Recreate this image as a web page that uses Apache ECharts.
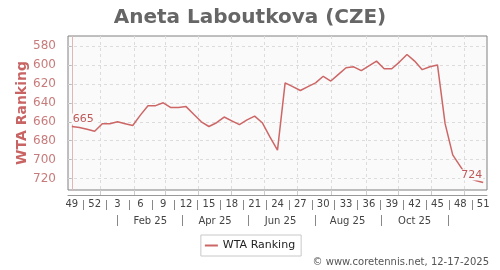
<!DOCTYPE html>
<html><head><meta charset="utf-8">
<script src="https://cdn.jsdelivr.net/npm/echarts@6/dist/echarts.min.js"></script>
<style>html,body{margin:0;padding:0;background:#fff}#c{width:500px;height:270px}</style>
</head><body><div id="c"></div>
<script>
const weeks = ['2024-W49','2024-W50','2024-W51','2024-W52',
  '2025-W01','2025-W02','2025-W03','2025-W04','2025-W05','2025-W06','2025-W07','2025-W08','2025-W09','2025-W10',
  '2025-W11','2025-W12','2025-W13','2025-W14','2025-W15','2025-W16','2025-W17','2025-W18','2025-W19','2025-W20',
  '2025-W21','2025-W22','2025-W23','2025-W24','2025-W25','2025-W26','2025-W27','2025-W28','2025-W29','2025-W30',
  '2025-W31','2025-W32','2025-W33','2025-W34','2025-W35','2025-W36','2025-W37','2025-W38','2025-W39','2025-W40',
  '2025-W41','2025-W42','2025-W43','2025-W44','2025-W45','2025-W46','2025-W47','2025-W48','2025-W49','2025-W50','2025-W51'];
const ranks = [665,666,668,670,662,662,660,662,664,653,643,643,640,645,645,644,652,660,665,661,655,659,663,658,654,661,676,690,619,623,627,623,619,612,617,610,603,602,606,601,596,604,604,597,589,596,605,602,600,662,695,707,719,722,724];
const weekTickIdx = [0,3,6,9,12,15,18,21,24,27,30,33,36,39,42,45,48,51,54];
const weekTickLabels = ['49','52','3','6','9','12','15','18','21','24','27','30','33','36','39','42','45','48','51'];
const weekSepIdx = [1.5,4.5,7.5,10.5,13.5,16.5,19.5,22.5,25.5,28.5,31.5,34.5,37.5,40.5,43.5,46.5,49.5,52.5];
const monthGridIdx = [3.7,8.2,12.2,16.6,20.9,25.3,29.6,34.1,38.6,42.9,47.2,51.5];
const monthSepIdx = [5.9,14.45,23.1,31.9,40.6,49.4];
const monthLabelIdx = [10.3,18.8,27.4,36.2,45];
const monthLabels = ['Feb 25','Apr 25','Jun 25','Aug 25','Oct 25'];
const rankTicks = [580,600,620,640,660,680,700,720];

const lineColor = '#cd6666';
const font = 'DejaVu Sans';

const seriesData = ranks.map((v, i) => {
  const item = { value: [i, v], name: weeks[i] };
  if (i === 0 || i === ranks.length - 1) {
    item.label = {
      show: true, position: 'top', distance: 2,
      align: i === 0 ? 'left' : 'right',
      formatter: String(v), color: '#c05a5a', fontSize: 11, fontFamily: font,
      backgroundColor: '#fafafa', padding: [0, 1]
    };
  }
  return item;
});

const chart = echarts.init(document.getElementById('c'), null, { renderer: 'canvas' });
chart.setOption({
  animation: false,
  backgroundColor: '#fff',
  title: {
    text: 'Aneta Laboutkova (CZE)', left: 'center', top: 3,
    textStyle: { fontFamily: font, fontSize: 20, fontWeight: 'bold', color: '#666' }
  },
  grid: {
    left: 68, right: 13, top: 36, bottom: 80, show: true,
    backgroundColor: '#fafafa', borderColor: '#808080', borderWidth: 1
  },
  legend: {
    top: 235, left: 'center',
    data: ['WTA Ranking'], icon: 'rect', itemWidth: 13, itemHeight: 2,
    padding: [5, 6, 5, 4], borderColor: '#c8c8c8', borderWidth: 1, borderRadius: 0,
    textStyle: { fontFamily: font, fontSize: 11, color: '#222' }
  },
  graphic: [{
    type: 'text', right: 11, top: 257,
    style: { text: '\u00a9 www.coretennis.net, 12-17-2025', fontFamily: font, fontSize: 10, fill: '#555' }
  }],
  xAxis: [
    {
      type: 'value', min: -0.5, max: 54.5, position: 'bottom', offset: 5,
      axisLine: { show: true, lineStyle: { color: '#999', width: 1 } },
      axisTick: { show: true, inside: true, length: 5, customValues: monthGridIdx, lineStyle: { color: '#ccc' } },
      axisLabel: {
        show: true, customValues: weekTickIdx, margin: 4, fontFamily: font, fontSize: 10, color: '#444',
        formatter: v => weekTickLabels[weekTickIdx.indexOf(Math.round(v))]
      },
      splitLine: { show: true, lineStyle: { color: '#dcdcdc', type: [3, 3] } }
    },
    {
      type: 'value', min: -0.5, max: 54.5, position: 'bottom', offset: 10,
      axisLine: { show: false },
      axisTick: { show: true, length: 10, customValues: weekSepIdx, lineStyle: { color: '#888' } },
      axisLabel: { show: false }, splitLine: { show: false }
    },
    {
      type: 'value', min: -0.5, max: 54.5, position: 'bottom', offset: 25,
      axisLine: { show: false },
      axisTick: { show: true, length: 11, customValues: monthSepIdx, lineStyle: { color: '#888' } },
      axisLabel: {
        show: true, customValues: monthLabelIdx, margin: 1, fontFamily: font, fontSize: 10, color: '#444',
        formatter: v => monthLabels[monthLabelIdx.indexOf(v)]
      },
      splitLine: { show: false }
    }
  ],
  yAxis: {
    type: 'value', inverse: true, min: 569.5, max: 732, position: 'left', offset: 5,
    name: 'WTA Ranking', nameLocation: 'middle', nameGap: 34, nameRotate: 90, nameMoveOverlap: false,
    nameTextStyle: { fontFamily: font, fontSize: 14, fontWeight: 'bold', color: '#c86464' },
    axisLine: { show: true, lineStyle: { color: '#e3b5b5' } },
    axisTick: { show: true, length: 3, customValues: rankTicks, lineStyle: { color: '#bbb' } },
    axisLabel: { customValues: rankTicks, margin: 7, fontFamily: font, fontSize: 12, color: '#c87b7b' },
    splitLine: { show: true, lineStyle: { color: '#dcdcdc', type: [3, 3] } }
  },
  series: [{
    name: 'WTA Ranking', type: 'line', xAxisIndex: 0,
    data: seriesData,
    symbol: 'circle', symbolSize: 0, showSymbol: true, showAllSymbol: true,
    lineStyle: { color: lineColor, width: 1.5 },
    itemStyle: { color: lineColor },
    emphasis: { disabled: true }
  }]
});
</script></body></html>
